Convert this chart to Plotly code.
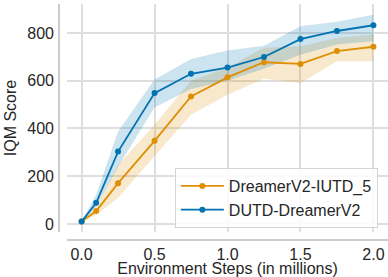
import plotly.graph_objects as go

steps = [0.0, 0.1, 0.25, 0.5, 0.75, 1.0, 1.25, 1.5, 1.75, 2.0]

iutd_mean = [10, 54, 171, 348, 534, 614, 677, 670, 724, 742]
iutd_low = [8, 38, 110, 282, 457, 541, 608, 590, 681, 681]
iutd_high = [12, 75, 247, 415, 600, 654, 738, 744, 779, 793]

dutd_mean = [10, 89, 303, 548, 629, 655, 699, 774, 808, 832]
dutd_low = [8, 73, 240, 488, 565, 600, 650, 709, 751, 765]
dutd_high = [12, 122, 387, 605, 691, 726, 746, 828, 847, 876]

names = ["DreamerV2-IUTD_5", "DUTD-DreamerV2"]
colors = ["#de8f05", "#0173b2"]
fills = ["rgba(222,143,5,0.2)", "rgba(1,115,178,0.2)"]

x_ticks = [0.0, 0.5, 1.0, 1.5, 2.0]
x_labels = ["0.0", "0.5", "1.0", "1.5", "2.0"]
y_ticks = [0, 200, 400, 600, 800]

FONT = "Liberation Sans"
TXT = "#262626"
fig = go.Figure()

series = [(iutd_mean, iutd_low, iutd_high), (dutd_mean, dutd_low, dutd_high)]
for (m, lo, hi), c, f in zip(series, colors, fills):
    fig.add_trace(go.Scatter(x=steps, y=lo, mode="lines", line=dict(width=0),
                             showlegend=False, hoverinfo="skip"))
    fig.add_trace(go.Scatter(x=steps, y=hi, mode="lines", line=dict(width=0),
                             fill="tonexty", fillcolor=f, showlegend=False,
                             hoverinfo="skip"))

for (m, lo, hi), c, n in zip(series, colors, names):
    fig.add_trace(go.Scatter(x=steps, y=m, mode="lines+markers", name=n,
                             line=dict(color=c, width=1.8),
                             marker=dict(color=c, size=6)))

grid = "#dedede"
fig.update_layout(
    width=388, height=277,
    margin=dict(l=67, r=0, t=4, b=45),
    paper_bgcolor="white", plot_bgcolor="white",
    font=dict(family=FONT, size=16, color=TXT),
    xaxis=dict(range=[-0.1, 2.1], tickvals=x_ticks, ticktext=x_labels,
               tickfont=dict(family=FONT, size=16, color=TXT),
               showgrid=True, gridcolor=grid, gridwidth=1.5, zeroline=False,
               showline=False, ticks="", ticklabelstandoff=11, automargin=False,
               title=dict(text="Environment Steps (in millions)", standoff=0,
                          font=dict(family=FONT, size=16, color=TXT))),
    yaxis=dict(range=[-33.5, 921], tickvals=y_ticks,
               tickfont=dict(family=FONT, size=16, color=TXT),
               showgrid=True, gridcolor=grid, gridwidth=1.5, zeroline=False,
               showline=False, ticks="", ticklabelstandoff=12, automargin=False,
               title=dict(text="IQM Score", standoff=6,
                          font=dict(family=FONT, size=16, color=TXT))),
    legend=dict(x=0.336, y=0.0175, xanchor="left", yanchor="bottom",
                bgcolor="rgba(255,255,255,0.85)", bordercolor="#d4d4d4",
                borderwidth=1, font=dict(family=FONT, size=16, color=TXT),
                tracegroupgap=0, itemwidth=43, traceorder="normal",
                entrywidth=156, entrywidthmode="pixels"),
    showlegend=True,
)

spine = "#cccccc"
fig.add_shape(type="line", xref="paper", yref="paper",
              x0=-8/321, x1=-8/321, y0=0, y1=1,
              line=dict(color=spine, width=2))
fig.add_shape(type="line", xref="paper", yref="paper",
              x0=0, x1=1, y0=-8/228, y1=-8/228,
              line=dict(color=spine, width=2))

fig.write_html("out.html", config={"displayModeBar": False},
               post_script="document.body.style.margin='0';document.body.style.overflow='hidden';")
